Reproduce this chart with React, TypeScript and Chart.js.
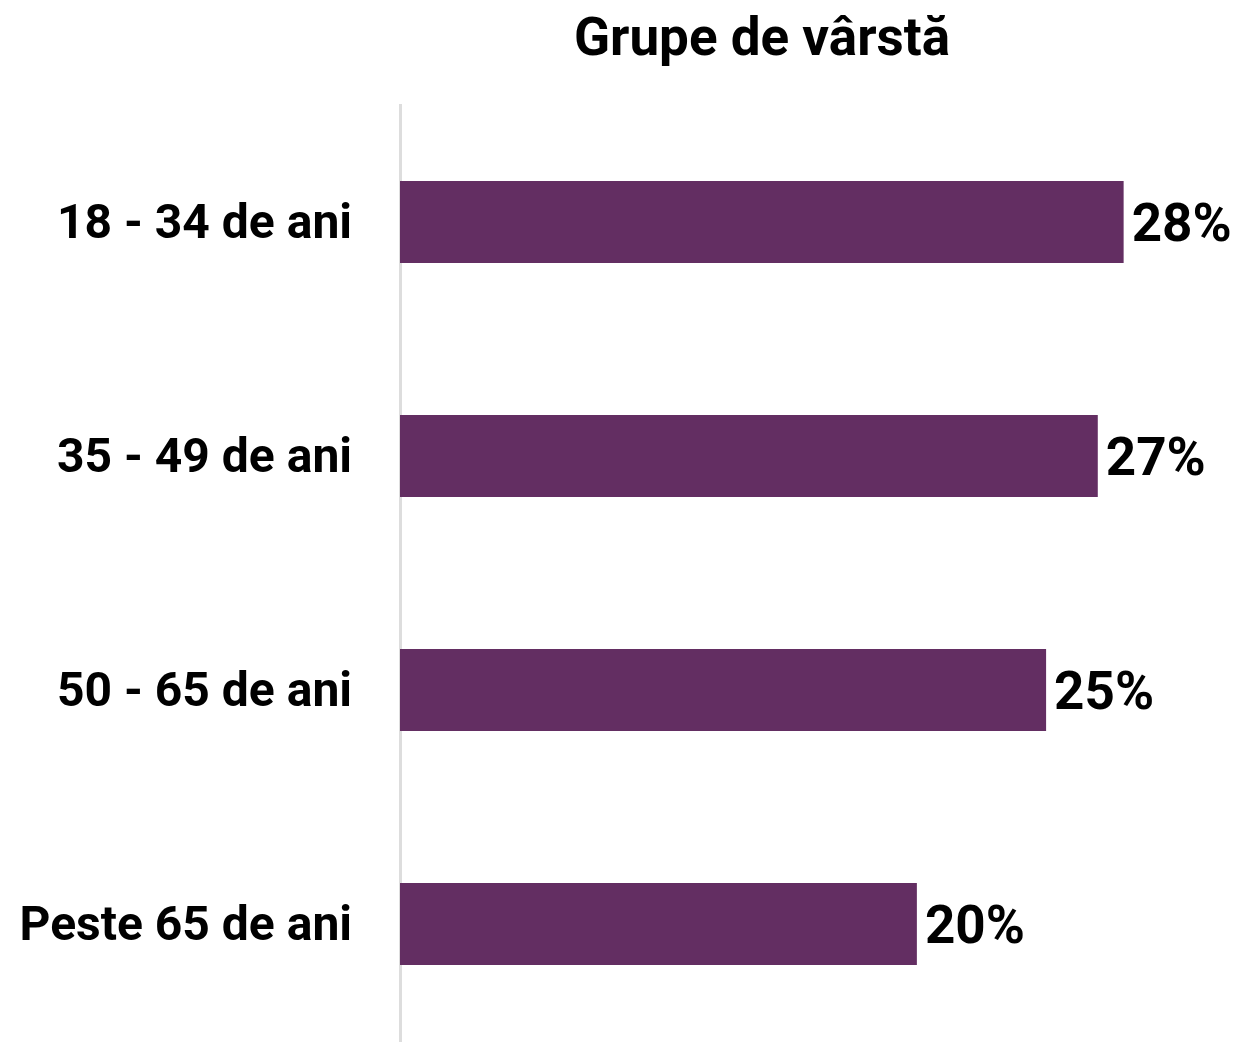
import React, { useEffect, useRef } from "react";
import { Chart, registerables } from "chart.js";

Chart.register(...registerables);

const categories = ["18 - 34 de ani", "35 - 49 de ani", "50 - 65 de ani", "Peste 65 de ani"];
const values = [28, 27, 25, 20];
const valueLabels = ["28%", "27%", "25%", "20%"];
const chartTitle = "Grupe de vârstă";

const FONT = "Roboto, 'Noto Sans', sans-serif";

export default function App() {
  const ref = useRef<HTMLCanvasElement>(null);

  useEffect(() => {
    document.body.style.margin = "0";
    const canvas = ref.current;
    if (!canvas) return;

    const labelPlugin = {
      id: "valueLabels",
      afterDatasetsDraw(chart: any) {
        const ctx = chart.ctx;
        const meta = chart.getDatasetMeta(0);
        ctx.save();
        ctx.font = `bold 53px ${FONT}`;
        ctx.fillStyle = "#000";
        ctx.textAlign = "left";
        ctx.textBaseline = "middle";
        meta.data.forEach((bar: any, i: number) => {
          ctx.fillText(valueLabels[i], bar.x + 8, bar.y + 6);
        });
        ctx.restore();
      },
    };

    const titlePlugin = {
      id: "customTitle",
      afterDraw(chart: any) {
        const ctx = chart.ctx;
        ctx.save();
        ctx.font = `bold 53px ${FONT}`;
        ctx.fillStyle = "#000";
        ctx.textAlign = "center";
        ctx.textBaseline = "middle";
        ctx.fillText(chartTitle, 762, 42);
        ctx.restore();
      },
    };

    const chart = new Chart(canvas, {
      type: "bar",
      data: {
        labels: categories,
        datasets: [
          {
            data: values,
            backgroundColor: "#632E62",
            borderWidth: 0,
            barPercentage: 0.35,
            categoryPercentage: 1,
          },
        ],
      },
      options: {
        indexAxis: "y",
        animation: false,
        responsive: false,
        maintainAspectRatio: false,
        layout: { padding: { top: 105, bottom: 1, left: 0, right: 11 } },
        plugins: {
          legend: { display: false },
          title: { display: false },
          tooltip: { enabled: false },
        },
        scales: {
          x: {
            display: false,
            min: 0,
            max: 32,
          },
          y: {
            grid: { display: false, drawTicks: false },
            border: { display: true, color: "#dddddd", width: 3 },
            ticks: {
              color: "#000",
              font: { family: FONT, size: 48, weight: "bold" },
              padding: 48,
              labelOffset: 4,
            },
            afterFit(scale: any) {
              scale.width = 400;
              scale.paddingTop = 0;
              scale.paddingBottom = 0;
            },
          },
        },
      },
      plugins: [labelPlugin, titlePlugin],
    } as any);

    return () => chart.destroy();
  }, []);

  return (
    <div style={{ width: 1238, height: 1042 }}>
      <canvas ref={ref} width={1238} height={1042} style={{ display: "block" }} />
    </div>
  );
}
